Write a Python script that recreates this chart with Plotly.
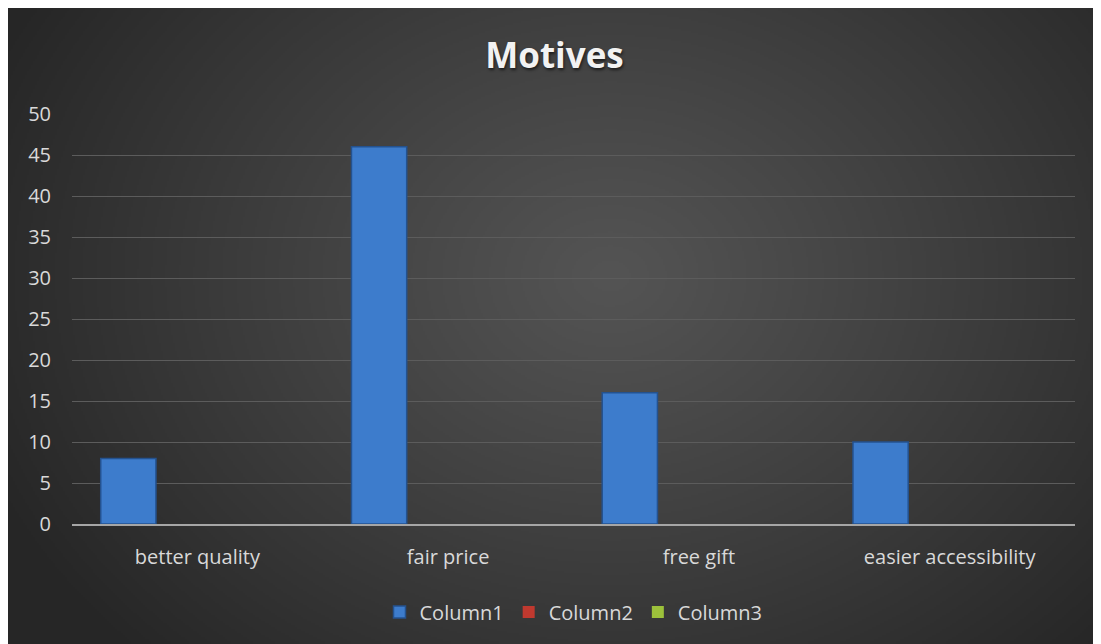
import base64, struct, zlib
import numpy as np
import plotly.graph_objects as go

categories = ["better quality", "fair price", "free gift", "easier accessibility"]
column1 = [8, 46, 16, 10]
column2 = [0, 0, 0, 0]
column3 = [0, 0, 0, 0]
series_names = ["Column1", "Column2", "Column3"]
y_ticks = list(range(0, 51, 5))


def make_png(w, h):
    yy, xx = np.mgrid[0:h, 0:w]
    cx, cy = w * 0.55, h * 0.42
    d = np.sqrt(((xx - cx) / (w * 0.62)) ** 2 + ((yy - cy) / (h * 0.85)) ** 2)
    d = np.clip(d, 0, 1)
    v = (84 - (84 - 38) * d ** 1.1).astype(np.uint8)
    raw = b"".join(b"\x00" + row.tobytes() for row in v)

    def chunk(t, data):
        c = struct.pack(">I", len(data)) + t + data
        return c + struct.pack(">I", zlib.crc32(t + data) & 0xFFFFFFFF)

    png = b"\x89PNG\r\n\x1a\n"
    png += chunk(b"IHDR", struct.pack(">IIBBBBB", w, h, 8, 0, 0, 0, 0))
    png += chunk(b"IDAT", zlib.compress(raw, 9))
    png += chunk(b"IEND", b"")
    return "data:image/png;base64," + base64.b64encode(png).decode()


W, H = 1093, 636
L, R, T, B = 64, 26, 106, 120
pw, ph = W - L - R, H - T - B
FONT = "Open Sans, sans-serif"

bg = make_png(547, 318)

fig = go.Figure()
fig.add_trace(go.Bar(x=categories, y=column1, name=series_names[0],
                     marker=dict(color="#3d7ccc", line=dict(color="#24528f", width=1.5))))
fig.add_trace(go.Bar(x=categories, y=column2, name=series_names[1],
                     marker=dict(color="#c0392f", line=dict(color="#7a1f1a", width=0))))
fig.add_trace(go.Bar(x=categories, y=column3, name=series_names[2],
                     marker=dict(color="#9cc13b", line=dict(color="#5c7a1e", width=0))))

fig.update_layout(
    width=W, height=H,
    margin=dict(l=L, r=R, t=T, b=B),
    paper_bgcolor="#2a2a2a",
    plot_bgcolor="rgba(0,0,0,0)",
    barmode="group",
    bargap=0.174,
    bargroupgap=0.2,
    font=dict(family=FONT, color="#d9d9d9", size=20),
    title=dict(text="<b>Motives</b>", x=0.5, xanchor="center", xref="container",
               y=1 - 48 / H, yanchor="middle", yref="container",
               font=dict(size=35, color="#f2f2f2", family=FONT,
                         shadow="1px 2px 3px rgba(0,0,0,0.6)")),
    showlegend=True,
    legend=dict(orientation="h", x=0.5, xanchor="center", y=-(604 - (H - B)) / ph,
                yanchor="middle", font=dict(size=20, color="#d9d9d9"),
                bgcolor="rgba(0,0,0,0)", itemwidth=30),
    images=[dict(source=bg, xref="paper", yref="paper",
                 x=-L / pw, y=1 + T / ph,
                 sizex=W / pw, sizey=H / ph,
                 xanchor="left", yanchor="top", sizing="stretch", layer="below")],
)
fig.update_xaxes(showgrid=False, showline=True, linecolor="#a6a6a6", linewidth=2,
                 ticks="", ticklabelstandoff=14, tickfont=dict(size=20, color="#d9d9d9"))
fig.update_yaxes(range=[0, 50], tickvals=y_ticks, showgrid=True, gridcolor="#5c5c5c",
                 gridwidth=1, zeroline=False, showline=False, ticks="",
                 ticklabelstandoff=20, tickfont=dict(size=20, color="#d9d9d9"))

fig.write_html("out.html")
